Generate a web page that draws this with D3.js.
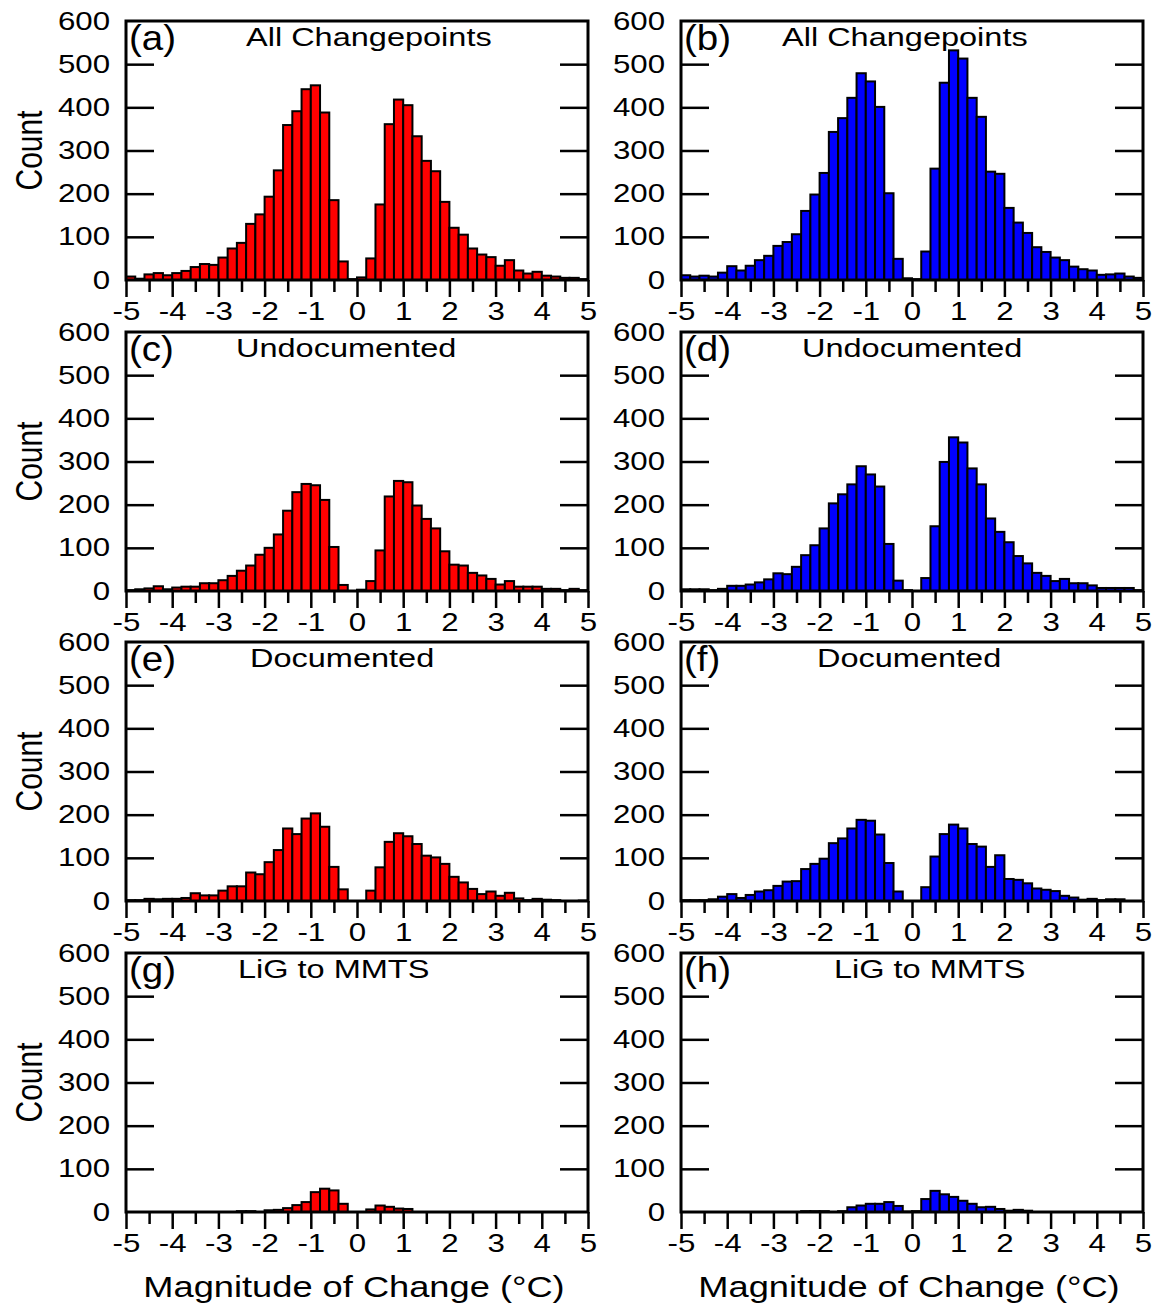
<!DOCTYPE html>
<html><head><meta charset="utf-8">
<script src="https://cdn.jsdelivr.net/npm/d3@7"></script>
<style>
body{margin:0;background:#fff}
svg{display:block}
text{font-family:"Liberation Sans",Arial,sans-serif;fill:#000}
</style>
</head><body>
<svg id="chart" width="1156" height="1308"></svg>
<script>
// ---- categories: histogram bins (lower edges, width 0.2 °C) ----
const binStarts = [-5.0,-4.8,-4.6,-4.4,-4.2,-4.0,-3.8,-3.6,-3.4,-3.2,
  -3.0,-2.8,-2.6,-2.4,-2.2,-2.0,-1.8,-1.6,-1.4,-1.2,
  -1.0,-0.8,-0.6,-0.4,-0.2,0.0,0.2,0.4,0.6,0.8,
  1.0,1.2,1.4,1.6,1.8,2.0,2.2,2.4,2.6,2.8,
  3.0,3.2,3.4,3.6,3.8,4.0,4.2,4.4,4.6,4.8];
const binWidth = 0.2;
const xTickValues = [-5,-4,-3,-2,-1,0,1,2,3,4,5];
const xMinorTickValues = [-4.5,-3.5,-2.5,-1.5,-0.5,0.5,1.5,2.5,3.5,4.5];
const yTickValues = [0,100,200,300,400,500,600];
const yInnerTickValues = [100,200,300,400,500];

const panelLetters = ["(a)","(b)","(c)","(d)","(e)","(f)","(g)","(h)"];
const panelTitles = ["All Changepoints","All Changepoints","Undocumented","Undocumented",
  "Documented","Documented","LiG to MMTS","LiG to MMTS"];
const yLabel = "Count";
const xLabel = "Magnitude of Change (\u00B0C)";

// ---- series values (counts per bin) ----
const allRed = [8,3,13,16,11,16,21,30,37,35,52,73,86,130,152,193,254,359,391,442,
  451,388,185,43,2,6,50,175,361,418,405,333,276,252,181,121,105,73,59,53,
  33,46,22,15,19,10,8,5,5,2];
const allBlue = [11,8,10,8,17,32,22,33,46,56,79,88,106,160,198,248,343,375,422,479,
  460,401,201,49,4,2,66,258,457,532,513,422,378,251,246,167,133,109,76,65,
  52,46,31,25,22,12,13,15,8,5];
const undocRed = [2,4,6,11,4,8,10,10,18,18,25,35,47,59,84,100,131,186,229,248,
  245,211,102,14,0,3,23,94,219,255,252,198,167,145,92,61,59,42,36,28,
  15,23,10,10,10,5,5,2,5,2];
const undocBlue = [4,4,4,2,5,12,12,15,20,27,41,39,56,83,106,145,203,224,247,289,
  270,242,109,24,2,0,30,150,299,356,344,284,247,168,137,113,81,64,42,35,
  23,28,18,18,13,7,7,7,7,2];
const docRed = [2,2,5,4,5,5,7,18,13,13,24,34,34,66,62,90,118,168,155,191,
  203,172,79,27,0,0,24,78,137,157,150,132,105,101,86,56,43,28,16,22,
  12,19,6,2,5,3,2,0,0,1];
const docBlue = [2,2,2,4,10,16,7,14,22,25,35,45,46,74,86,98,134,145,168,188,
  186,154,88,22,0,0,32,103,155,177,168,132,126,79,106,51,49,41,29,26,
  23,12,8,3,5,2,4,4,0,0];
const ligRed = [0,0,0,0,0,0,0,0,0,0,0,0,2,2,0,4,5,9,16,23,
  46,54,50,19,0,0,6,15,12,8,7,0,0,0,0,0,0,0,0,0,
  0,0,0,0,0,0,0,0,0,0];
const ligBlue = [0,0,0,0,0,0,0,0,0,0,0,0,0,2,2,2,0,2,11,15,
  19,19,23,14,1,2,30,49,41,35,26,19,11,12,7,3,5,3,0,0,
  0,0,0,0,0,0,0,0,0,0];

const panelSeries = [allRed, allBlue, undocRed, undocBlue, docRed, docBlue, ligRed, ligBlue];
const seriesColors = ["#ff0000","#0000ff"];

// ---- layout ----
const colLeft = [126, 681];
const rowTop = [21, 332, 642, 953];
const plotW = 462, plotH = 259;
const titleX = [246, 782, 236, 802, 250, 817, 238, 834];
const SX = 1.25; // horizontal text stretch of the original

const svg = d3.select("#chart");

panelSeries.forEach((vals, p) => {
  const r = Math.floor(p / 2), c = p % 2;
  const L = colLeft[c], T = rowTop[r];
  const x = d3.scaleLinear().domain([-5, 5]).range([L, L + plotW]);
  const y = d3.scaleLinear().domain([0, 600]).range([T + plotH, T]);
  const g = svg.append("g");

  // bars
  g.selectAll("rect.bar").data(binStarts.map((b, i) => ({b, v: vals[i]})))
    .join("rect").attr("class", "bar")
    .attr("x", d => x(d.b))
    .attr("width", d => x(d.b + binWidth) - x(d.b))
    .attr("y", d => y(d.v))
    .attr("height", d => y(0) - y(d.v))
    .attr("fill", seriesColors[c])
    .attr("stroke", "#000").attr("stroke-width", 2);

  // frame
  g.append("rect").attr("x", L).attr("y", T).attr("width", plotW).attr("height", plotH)
    .attr("fill", "none").attr("stroke", "#000").attr("stroke-width", 3);

  // left axis: inward ticks, labels outside
  const ya = g.append("g").attr("transform", `translate(${L},0)`)
    .call(d3.axisLeft(y).tickValues(yTickValues).tickSizeInner(0).tickSizeOuter(0).tickPadding(16));
  ya.select(".domain").remove();
  ya.selectAll("text").attr("font-size", 25).attr("font-family", "Liberation Sans, Arial, sans-serif")
    .attr("x", -16 / SX).attr("transform", `scale(${SX},1)`);
  g.append("g").attr("transform", `translate(${L},0)`)
    .call(d3.axisRight(y).tickValues(yInnerTickValues).tickSizeInner(28).tickSizeOuter(0).tickFormat(""))
    .call(s => { s.select(".domain").remove(); s.selectAll("line").attr("stroke-width", 2.5); });
  g.append("g").attr("transform", `translate(${L + plotW},0)`)
    .call(d3.axisLeft(y).tickValues(yInnerTickValues).tickSizeInner(28).tickSizeOuter(0).tickFormat(""))
    .call(s => { s.select(".domain").remove(); s.selectAll("line").attr("stroke-width", 2.5); });

  // bottom axis: outward ticks
  const xa = g.append("g").attr("transform", `translate(0,${T + plotH})`)
    .call(d3.axisBottom(x).tickValues(xTickValues).tickSizeInner(17).tickSizeOuter(0).tickPadding(5).tickFormat(d3.format("d")));
  xa.select(".domain").remove();
  xa.selectAll("line").attr("stroke-width", 2.5);
  xa.selectAll("text").attr("font-size", 25).attr("font-family", "Liberation Sans, Arial, sans-serif")
    .attr("transform", `scale(${SX},1)`)
    .text(d => d < 0 ? "-" + Math.abs(d) : String(d));
  g.append("g").attr("transform", `translate(0,${T + plotH})`)
    .call(d3.axisBottom(x).tickValues(xMinorTickValues).tickSizeInner(12).tickSizeOuter(0).tickFormat(""))
    .call(s => { s.select(".domain").remove(); s.selectAll("line").attr("stroke-width", 2.5); });

  // panel letter and title
  g.append("text").attr("transform", `translate(${L + 3},${T + 29}) scale(1.1,1)`)
    .attr("font-size", 35).text(panelLetters[p]);
  g.append("text").attr("transform", `translate(${titleX[p]},${T + 25}) scale(${SX},1)`)
    .attr("font-size", 26).text(panelTitles[p]);

  // y label (left column only)
  if (c === 0) {
    g.append("text").attr("transform", `translate(42,${T + plotH / 2}) scale(${SX},1) rotate(-90)`)
      .attr("text-anchor", "middle").attr("font-size", 30).text(yLabel);
  }
  // x label (bottom row only)
  if (r === 3) {
    g.append("text").attr("transform", `translate(${L + plotW / 2 - 3},1297) scale(${SX},1)`)
      .attr("text-anchor", "middle").attr("font-size", 29).text(xLabel);
  }
});
</script>
</body></html>
